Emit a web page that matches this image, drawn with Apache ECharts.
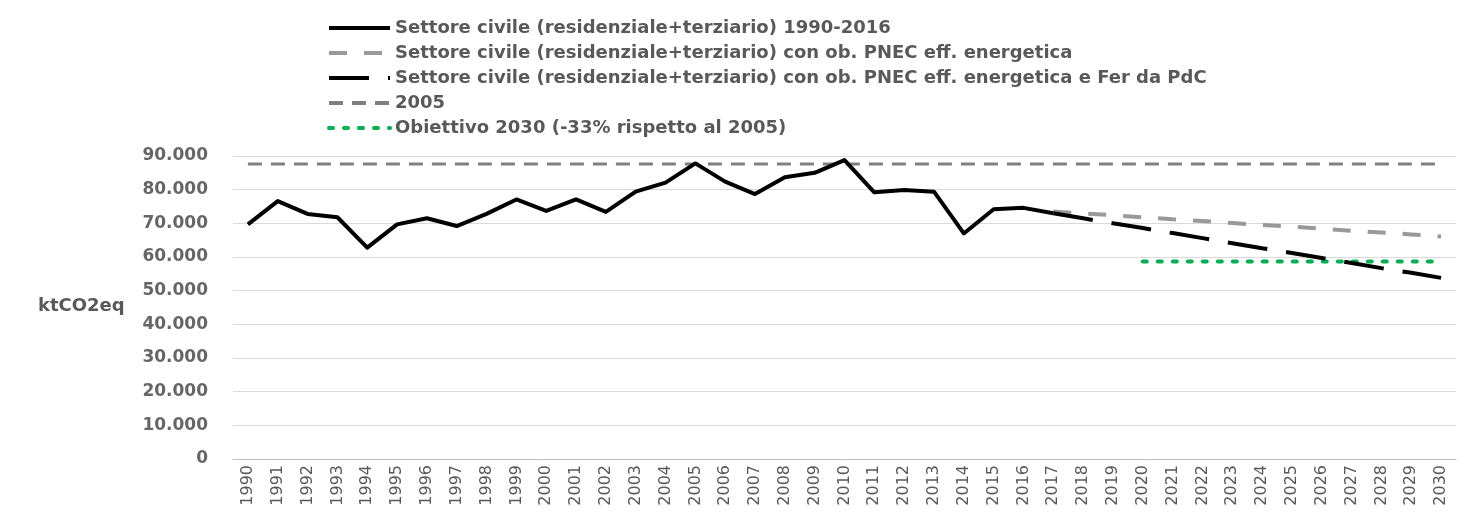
<!DOCTYPE html>
<html>
<head>
<meta charset="utf-8">
<script src="https://cdn.jsdelivr.net/npm/echarts@6/dist/echarts.min.js"></script>
<style>
  html, body { margin: 0; padding: 0; background: #fff; }
  #chart { width: 1478px; height: 513px; }
</style>
</head>
<body>
<div id="chart"></div>
<script>
// anni sull'asse x
var years = [];
for (var y = 1990; y <= 2030; y++) years.push(String(y));

// emissioni storiche 1990-2017 (ktCO2eq)
var storico = [69700, 76600, 72800, 71800, 62800, 69700, 71500, 69200, 72800, 77100,
    73700, 77100, 73400, 79400, 82100, 87800, 82400, 78700, 83700, 85000,
    88800, 79200, 79900, 79400, 67000, 74200, 74600, 73000];

// proiezioni 2017-2030
var anniProiezione = ['2017', '2018', '2019', '2020', '2021', '2022', '2023', '2024', '2025', '2026', '2027', '2028', '2029', '2030'];
var pnecEff = [73500, 72900, 72400, 71800, 71200, 70700, 70100, 69500, 69000, 68400, 67800, 67300, 66700, 66100];
var pnecFer = [73000, 71500, 70000, 68600, 67100, 65600, 64100, 62600, 61200, 59700, 58200, 56700, 55300, 53800];

// livelli di riferimento
var anni2005 = ['1990', '2030'];
var livello2005 = [87600, 87600];
var anniObiettivo = ['2020', '2030'];
var obiettivo2030 = [58700, 58700];

var yTicks = [0, 10000, 20000, 30000, 40000, 50000, 60000, 70000, 80000, 90000];

function pairs(xs, vs) {
    return xs.map(function(x, i) { return [x, vs[i]]; });
}

var chart = echarts.init(document.getElementById('chart'));
var font = 'DejaVu Sans';
var option = {
    animation: false,
    backgroundColor: '#fff',
    grid: { left: 233, right: 22, top: 156, bottom: 54 },
    legend: {
        orient: 'vertical',
        left: 322,
        top: 14,
        itemWidth: 61,
        itemHeight: 14,
        itemGap: 7,
        itemStyle: { opacity: 0 },
        lineStyle: { width: 4 },
        textStyle: { fontFamily: font, fontSize: 18, fontWeight: 'bold', color: '#595959' },
        data: [
            'Settore civile (residenziale+terziario) 1990-2016',
            'Settore civile (residenziale+terziario) con ob. PNEC eff. energetica',
            'Settore civile (residenziale+terziario) con ob. PNEC eff. energetica e Fer da PdC',
            '2005',
            'Obiettivo 2030 (-33% rispetto al 2005)'
        ]
    },
    xAxis: {
        type: 'category',
        data: years,
        boundaryGap: true,
        axisLine: { lineStyle: { color: '#bfbfbf', width: 1 } },
        axisTick: { show: false },
        axisLabel: { rotate: 90, interval: 0, margin: 6, fontFamily: font, fontSize: 16, color: '#595959' }
    },
    yAxis: {
        type: 'value',
        min: yTicks[0],
        max: yTicks[yTicks.length - 1],
        interval: 10000,
        axisLine: { show: false },
        axisTick: { show: false },
        splitLine: { lineStyle: { color: '#d9d9d9', width: 1 } },
        axisLabel: {
            margin: 25,
            fontFamily: font,
            fontSize: 17,
            fontWeight: 'bold',
            color: '#666666',
            formatter: function(v) { return v === 0 ? '0' : (v / 1000) + '.000'; }
        }
    },
    graphic: [{
        type: 'text',
        left: 38,
        top: 297,
        style: { text: 'ktCO2eq', fontFamily: font, fontSize: 18, fontWeight: 'bold', fill: '#595959' }
    }],
    series: [
        {
            name: '2005',
            type: 'line',
            data: pairs(anni2005, livello2005),
            symbol: 'none',
            z: 1,
            lineStyle: { color: '#808080', width: 3, type: [14, 9] },
            itemStyle: { color: '#808080' }
        },
        {
            name: 'Settore civile (residenziale+terziario) con ob. PNEC eff. energetica',
            type: 'line',
            data: pairs(anniProiezione, pnecEff),
            symbol: 'none',
            z: 2,
            lineStyle: { color: '#999999', width: 4, type: [18, 17] },
            itemStyle: { color: '#999999' }
        },
        {
            name: 'Settore civile (residenziale+terziario) con ob. PNEC eff. energetica e Fer da PdC',
            type: 'line',
            data: pairs(anniProiezione, pnecFer),
            symbol: 'none',
            z: 3,
            lineStyle: { color: '#000000', width: 4, type: [40, 19] },
            itemStyle: { color: '#000000' }
        },
        {
            name: 'Obiettivo 2030 (-33% rispetto al 2005)',
            type: 'line',
            data: pairs(anniObiettivo, obiettivo2030),
            symbol: 'none',
            z: 2,
            lineStyle: { color: '#00B050', width: 4, type: [4, 11], cap: 'round' },
            itemStyle: { color: '#00B050' }
        },
        {
            name: 'Settore civile (residenziale+terziario) 1990-2016',
            type: 'line',
            data: pairs(years.slice(0, storico.length), storico),
            symbol: 'none',
            z: 4,
            lineStyle: { color: '#000000', width: 4, join: 'round' },
            itemStyle: { color: '#000000' }
        }
    ]
};
chart.setOption(option);
</script>
</body>
</html>
